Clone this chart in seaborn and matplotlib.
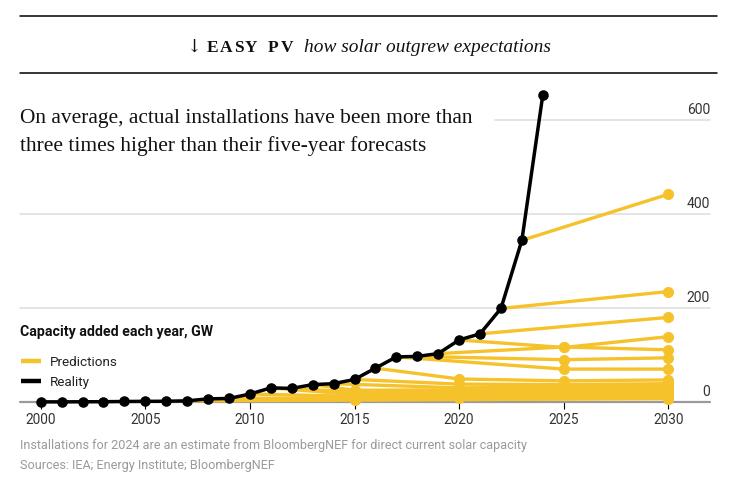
import numpy as np
import pandas as pd
import seaborn as sns
import matplotlib
matplotlib.use("Agg")
import matplotlib.pyplot as plt
from matplotlib.lines import Line2D
import matplotlib.transforms as mtransforms

# ---------------- data ----------------
real_years = list(range(2000, 2025))
real_gw = [0.3, 0.3, 0.5, 0.6, 1.1, 1.4, 1.6, 2.5, 6.7, 7.5, 17, 30, 29, 37, 39,
           48, 72, 96, 97, 103, 132, 145, 199, 344, 653]

pred_base = [2007, 2008, 2009, 2010, 2011, 2012, 2013, 2014, 2015, 2016,
             2017, 2018, 2019, 2020, 2021, 2022, 2023]
pred_years = [
    [2015, 2030],
    [2015, 2020, 2030],
    [2015, 2020, 2030],
    [2015, 2020, 2030],
    [2015, 2020, 2030],
    [2015, 2020, 2025, 2030],
    [2015, 2020, 2025, 2030],
    [2020, 2025, 2030],
    [2020, 2025, 2030],
    [2020, 2025, 2030],
    [2025, 2030],
    [2025, 2030],
    [2025, 2030],
    [2025, 2030],
    [2030],
    [2030],
    [2030],
]
pred_gw = [
    [4, 7],
    [6, 9, 12],
    [9, 12, 17],
    [12, 15, 21],
    [16, 19, 25],
    [21, 22, 25, 29],
    [25, 26, 28, 32],
    [30, 32, 35],
    [38, 37, 39],
    [49, 45, 47],
    [70, 70],
    [90, 94],
    [117, 111],
    [116, 139],
    [180],
    [235],
    [442],
]

x_ticks = [2000, 2005, 2010, 2015, 2020, 2025, 2030]
y_ticks = [0, 200, 400, 600]

header_bold = ["EASY", "PV"]
header_italic = "how solar outgrew expectations"
subtitle = ["On average, actual installations have been more than",
            "three times higher than their five-year forecasts"]
legend_title = "Capacity added each year, GW"
legend_labels = ["Predictions", "Reality"]
footer = ["Installations for 2024 are an estimate from BloombergNEF for direct current solar capacity",
          "Sources: IEA; Energy Institute; BloombergNEF"]

# ---------------- frames ----------------
real_df = pd.DataFrame({"year": real_years, "gw": real_gw})
lookup = dict(zip(real_years, real_gw))
rows, pts = [], []
for b, ys, vs in zip(pred_base, pred_years, pred_gw):
    rows.append({"vintage": b, "year": b, "gw": lookup[b]})
    for y, v in zip(ys, vs):
        rows.append({"vintage": b, "year": y, "gw": v})
        pts.append({"vintage": b, "year": y, "gw": v})
pred_df = pd.DataFrame(rows)
pts_df = pd.DataFrame(pts)

# ---------------- style ----------------
sns.set_style("white")
plt.rcParams["font.family"] = ["Roboto", "DejaVu Sans"]

YELLOW = "#F6C22B"
W, H = 737, 482
fig = plt.figure(figsize=(W / 100, H / 100), dpi=100)


def F(x, y):
    return x / W, 1 - y / H


PX_PER_GW = 0.47
ax = fig.add_axes([20 / W, (H - 402) / H, 690 / W, (402 - 90) / H])
ax.set_xlim(2000 - 20.7 / 20.92, 2030 + 41.7 / 20.92)
ax.set_ylim(0, (402 - 90) / PX_PER_GW)

# grid lines
for v in y_ticks[1:]:
    xmin = 0.0 if v < 600 else (495 - 20) / 690
    ax.axhline(v, xmin=xmin, xmax=1, color="#dcdcdc", lw=1.1, zorder=0)
ax.axhline(0, color="#9a9a9a", lw=1.6, zorder=1)

sns.lineplot(data=pred_df, x="year", y="gw", units="vintage", estimator=None,
             color=YELLOW, lw=2.4, sort=True, legend=False, ax=ax, zorder=3)
sns.scatterplot(data=pts_df, x="year", y="gw", color=YELLOW, s=64,
                linewidth=0, legend=False, ax=ax, zorder=4)
sns.lineplot(data=real_df, x="year", y="gw", color="black", lw=2.5,
             marker="o", markersize=7.6, markeredgewidth=0, legend=False,
             ax=ax, zorder=5)
for ln in ax.lines:
    ln.set_clip_on(False)
for c in ax.collections:
    c.set_clip_on(False)

for s in ax.spines.values():
    s.set_visible(False)
ax.set_xlabel("")
ax.set_ylabel("")
ax.set_yticks([])
ax.set_xticks(x_ticks)
ax.set_xticklabels([str(t) for t in x_ticks])
ax.tick_params(axis="x", direction="out", length=5, width=0.8, color="black",
               labelsize=9.8, labelcolor="#333333", pad=3, bottom=True)
ax.grid(False)

trans = mtransforms.blended_transform_factory(ax.transAxes, ax.transData)
off = mtransforms.offset_copy(trans, fig=fig, x=0, y=3, units="dots")
for v in y_ticks:
    ax.text(1.0, v, str(v), transform=off, ha="right", va="bottom",
            fontsize=10, color="#333333")

renderer = fig.canvas.get_renderer()


def fit(t, target):
    w = t.get_window_extent(renderer=renderer).width
    t.set_fontsize(t.get_fontsize() * target / w)
    return t.get_fontsize()


# ---------------- header ----------------
for y in (16, 72.5):
    fig.add_artist(Line2D([20 / W, 717 / W], [1 - y / H] * 2, color="black", lw=1.1))

serif = ["Liberation Serif", "DejaVu Serif"]
fig.text(*F(186, 52), "\u2193", fontsize=13, family=["DejaVu Serif"],
         ha="left", va="baseline", color="#111111")


def tracked(word, x0, x1, y, fs):
    ts = [fig.text(*F(0, y), c, fontsize=fs, family=serif, weight="bold",
                   ha="left", va="baseline", color="#111111") for c in word]
    ws = [t.get_window_extent(renderer=renderer).width for t in ts]
    gap = ((x1 - x0) - sum(ws)) / max(len(word) - 1, 1)
    x = x0
    for t, w in zip(ts, ws):
        t.set_x(x / W)
        x += w + gap


tracked(header_bold[0], 207, 257, 52, 12.5)
tracked(header_bold[1], 268, 293, 52, 12.5)
ti = fig.text(*F(304, 52), header_italic, fontsize=14, family=serif,
              style="italic", ha="left", va="baseline", color="#111111")
fit(ti, 247)

# ---------------- subtitle ----------------
s1 = fig.text(*F(20, 123), subtitle[0], fontsize=15, family=serif,
              ha="left", va="baseline", color="#111111")
fs = fit(s1, 454)
fig.text(*F(20, 151.5), subtitle[1], fontsize=fs, family=serif,
         ha="left", va="baseline", color="#111111")

# ---------------- legend ----------------
lt = fig.text(*F(20, 336), legend_title, fontsize=10, weight="bold",
              ha="left", va="baseline", color="#111111")
fit(lt, 192)
for (lab, col, y) in [(legend_labels[0], YELLOW, 361), (legend_labels[1], "black", 381)]:
    fig.add_artist(Line2D([21 / W, 41 / W], [1 - y / H] * 2, color=col, lw=3.2,
                          solid_capstyle="butt"))
lp = fig.text(*F(50, 366), legend_labels[0], fontsize=10, ha="left",
              va="baseline", color="#222222")
lfs = fit(lp, 68)
fig.text(*F(50, 386), legend_labels[1], fontsize=lfs, ha="left",
         va="baseline", color="#222222")

# ---------------- footer ----------------
f1 = fig.text(*F(20, 449), footer[0], fontsize=9, ha="left", va="baseline",
              color="#9a9a9a")
ffs = fit(f1, 506)
fig.text(*F(20, 469), footer[1], fontsize=ffs, ha="left", va="baseline",
         color="#9a9a9a")

fig.savefig("out.png", dpi=100, facecolor="white")
